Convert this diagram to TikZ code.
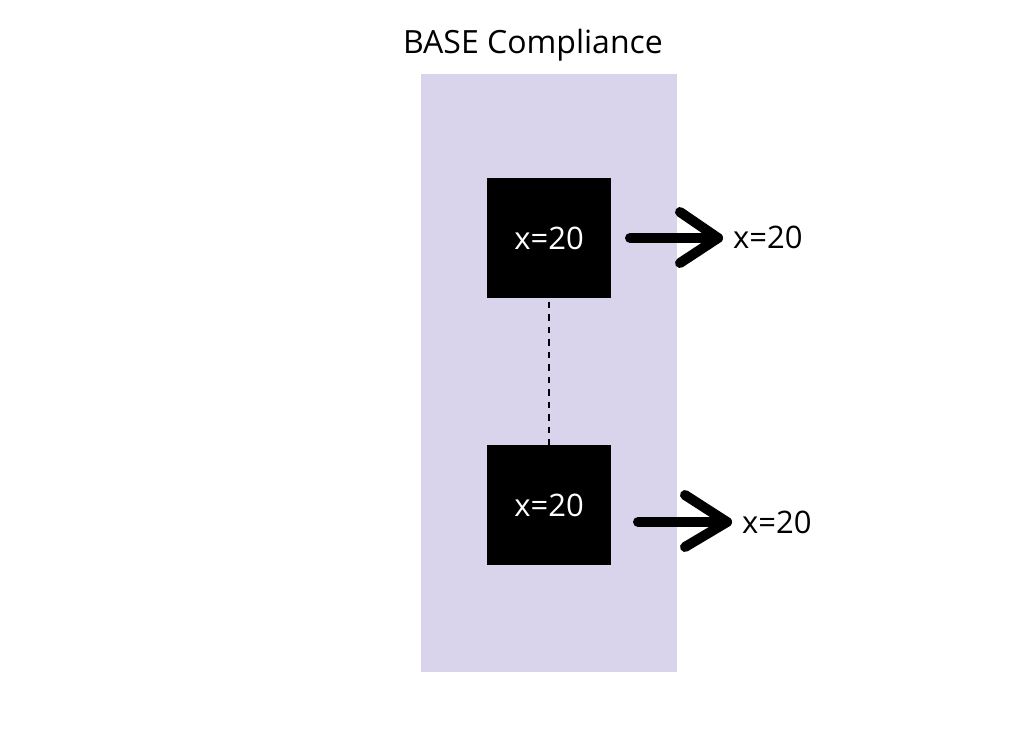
\documentclass[tikz,border=0pt]{standalone}
\usepackage{fontspec}
\setmainfont{Open Sans}
\begin{document}
\begin{tikzpicture}[x=1pt,y=-1pt,
  panel/.style={fill=panelc,draw=none},
  blackbox/.style={fill=black,draw=none,minimum width=124pt,minimum height=120pt,inner sep=0pt,text=white,font=\fontsize{31}{34}\selectfont},
  lbl/.style={font=\fontsize{31}{34}\selectfont,inner sep=0pt,anchor=base west},
  bigarrow/.style={line width=10pt,line cap=round,line join=round},
  link/.style={line width=2.5pt,dash pattern=on 6.5pt off 6pt}]
\definecolor{panelc}{RGB}{218,211,236}
\useasboundingbox (0,0) rectangle (1024,747);
\fill[white] (0,0) rectangle (1024,747);
\fill[panel] (421,74) rectangle (677,672);
\node[font=\fontsize{32}{35}\selectfont,inner sep=0pt,anchor=base] (title) at (533,53) {BASE Compliance};
\node[blackbox] (b1) at (549,238) {x=20};
\node[blackbox] (b2) at (549,505) {x=20};
\node[lbl] (l1) at (733,248) {x=20};
\node[lbl] (l2) at (742,533) {x=20};
\coordinate (s1) at (630,238);
\coordinate (t1) at (718,238);
\coordinate (s2) at (638,522);
\coordinate (t2) at (727,522);
\draw[bigarrow] (s1) -- (t1);
\draw[bigarrow] ([shift={(-38,-26)}]t1) -- (t1) -- ([shift={(-38,25)}]t1);
\draw[bigarrow] (s2) -- (t2);
\draw[bigarrow] ([shift={(-42,-27)}]t2) -- (t2) -- ([shift={(-42,25)}]t2);
\draw[link] ([yshift=9pt]b1.south) -- ([yshift=-6pt]b2.north);
\end{tikzpicture}
\end{document}
